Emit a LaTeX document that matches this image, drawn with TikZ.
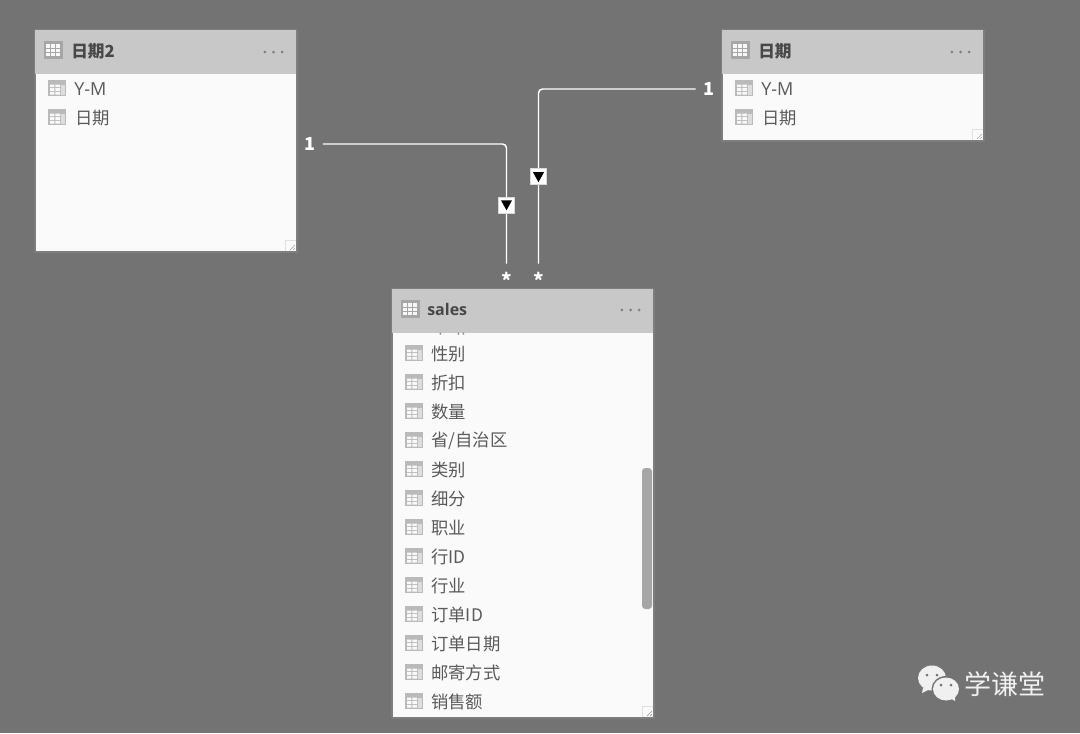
\documentclass[tikz,border=0pt]{standalone}
\usepackage{fontspec}
\setmainfont{Noto Sans CJK SC}
\newfontfamily\latfont{Open Sans}
\usetikzlibrary{calc}
\definecolor{bgc}{HTML}{737373}
\definecolor{hdr}{HTML}{C8C8C8}
\definecolor{bodyc}{HTML}{FAFAFA}
\definecolor{edge}{HTML}{7E7E7E}
\definecolor{txt}{HTML}{5A5A5A}
\definecolor{ttl}{HTML}{484848}
\definecolor{ico}{HTML}{BABABA}
\definecolor{scrollc}{HTML}{A6A6A6}
\definecolor{wmc}{HTML}{F0F0F0}
\newcommand{\fs}[1]{\fontsize{#1pt}{#1pt}\selectfont}
\newcommand{\fieldicon}[2]{%
  \begin{scope}[shift={(#1,#2)}]
    \fill[ico] (-9,-8) rectangle (9,8);
    \fill[white!92!ico] (-7,-3.5) rectangle (-2.6,-0.8) (-1.6,-3.5) rectangle (3,-0.8)
                 (-7,0.2) rectangle (-2.6,2.8) (-1.6,0.2) rectangle (3,2.8)
                 (-7,3.8) rectangle (-2.6,6.5) (-1.6,3.8) rectangle (3,6.5);
    \fill[bodyc!55!ico] (4,-3.5) rectangle (7.5,6.5);
  \end{scope}}
\newcommand{\headicon}[2]{%
  \begin{scope}[shift={(#1,#2)}]
    \fill[black!35] (-9.5,-9) rectangle (9.5,9);
    \foreach \u in {-7.5,-2.5,2.5}\foreach \v in {-4,0.3,4.6}
      \fill[white!88!ico] (\u,\v-1.6) rectangle (\u+4,\v+1.6);
  \end{scope}}
\newcommand{\menudots}[2]{%
  \foreach \d in {-8.7,0,8.7}\fill[gray] (#1+\d,#2) circle (1.5);}
\newcommand{\grip}[2]{%
  \draw[black!12,line width=0.6pt] (#1-11,#2) -- (#1-11,#2-11) -- (#1,#2-11);
  \draw[black!35,line width=0.5pt] (#1-6,#2-1) -- (#1-1,#2-6) (#1-3,#2-1) -- (#1-1,#2-3);}
\tikzset{
  x=0.75pt,y=-0.75pt,
  tablebox/.style={draw=edge,line width=0.6pt,fill=bodyc,minimum width=196.5pt,inner sep=0pt,anchor=north west},
  fieldtext/.style={anchor=west,text=txt,inner sep=0pt,font=\fs{13}},
  titletext/.style={anchor=west,text=ttl,inner sep=0pt,font=\fs{12.5}\bfseries},
  onelabel/.style={text=white,inner sep=0pt,font=\fs{13.5}\bfseries,minimum width=19.5pt},
  starlabel/.style={text=white,inner sep=0pt,font=\fs{15}\bfseries,minimum height=24pt},
  link/.style={draw=white,line width=1.1pt,rounded corners=3pt},
  dirbox/.style={sharp corners,fill=white,draw=white!85!black,line width=0.4pt,minimum size=12pt,inner sep=0pt},
  wm/.style={text=wmc,inner sep=0pt,font=\fs{20.25},anchor=west},
}
\begin{document}
\begin{tikzpicture}
\useasboundingbox (0,0) rectangle (1080,733);
\fill[bgc] (0,0) rectangle (1080,733);

% ---------- 日期2
\node[tablebox,minimum height=166.5pt] (t2) at (34.5,29.5) {};
\fill[hdr] (34.5,29.5) rectangle (296.5,73.5);
\draw[edge,line width=0.6pt] (34.5,29.5) rectangle (296.5,251.5);
\headicon{53}{50}
\node[titletext] (t2title) at (71,51) {日期2};
\menudots{273.5}{52}
\fieldicon{57}{88}
\node[fieldtext,font=\fs{13.5}\latfont] (t2a) at (74,89) {Y-M};
\fieldicon{57}{117}
\node[fieldtext] (t2b) at (75,118) {日期};
\grip{296}{251}

% ---------- 日期
\node[tablebox,minimum height=83.25pt] (t1) at (721.5,29.5) {};
\fill[hdr] (721.5,29.5) rectangle (983.5,73.5);
\draw[edge,line width=0.6pt] (721.5,29.5) rectangle (983.5,140.5);
\headicon{740}{50}
\node[titletext] (t1title) at (758,51) {日期};
\menudots{960.5}{52}
\fieldicon{744}{88}
\node[fieldtext,font=\fs{13.5}\latfont] (t1a) at (761,89) {Y-M};
\fieldicon{744}{117}
\node[fieldtext] (t1b) at (762,118) {日期};
\grip{983}{140}

% ---------- sales
\node[tablebox,minimum height=321.75pt] (ts) at (391.5,288.5) {};
\fill[hdr] (391.5,288.5) rectangle (653.5,332.5);
\draw[edge,line width=0.6pt] (391.5,288.5) rectangle (653.5,717.5);
\fill[black!45] (439.5,332.5) rectangle (441,334.5) (457.5,332.5) rectangle (459,334.5) (462.5,332.5) rectangle (464,334.5);
\headicon{410}{309}
\node[titletext,font=\fs{12}\latfont\bfseries] (tstitle) at (427,309.5) {sales};
\menudots{630.5}{310}
\foreach \n/\y/\t in {a/353/性别,b/382/折扣,c/411/数量,d/440/{省/自治区},e/469/类别,f/498/细分,g/527/职业,h/556/行ID,i/585/行业,j/614/订单ID,k/643/订单日期,l/672/邮寄方式,m/701/销售额}{
  \fieldicon{414}{\y}
  \node[fieldtext] (s\n) at (431,\y+1) {\t};
}
\fill[scrollc,rounded corners=2.5pt] (642,468) rectangle (652,609);
\grip{653}{717}

% ---------- connectors
\node[onelabel] (oneL) at (309.5,144) {1};
\node[onelabel] (oneR) at (709,89) {1};
\node[starlabel] (starL) at (506.5,280) {*};
\node[starlabel] (starR) at (538.5,280) {*};
\draw[link] (oneL.east) -| (starL.north) node[pos=0.754,dirbox] (dirL) {};
\draw[link] (oneR.west) -| (starR.north) node[pos=0.751,dirbox] (dirR) {};
\fill[black] ($(dirL)+(-5.5,-4.5)$) -- ($(dirL)+(5.5,-4.5)$) -- ($(dirL)+(0,5.5)$) -- cycle;
\fill[black] ($(dirR)+(-5.5,-4.5)$) -- ($(dirR)+(5.5,-4.5)$) -- ($(dirR)+(0,5.5)$) -- cycle;

% ---------- watermark
\fill[wmc] (932,678) ellipse (14 and 12.5);
\fill[wmc] (923,688) -- (922,693) -- (930,689) -- cycle;
\fill[bgc] (946,689) ellipse (14.5 and 13);
\fill[wmc] (946,689) ellipse (13 and 11.5);
\fill[wmc] (950,698) -- (955,701) -- (955,695) -- cycle;
\fill[black!55] (927,675) circle (1.5) (937,675) circle (1.5) (941,685) circle (1.5) (951,685) circle (1.5);
\node[wm] (wmt) at (964,684.5) {学谦堂};
\end{tikzpicture}
\end{document}
